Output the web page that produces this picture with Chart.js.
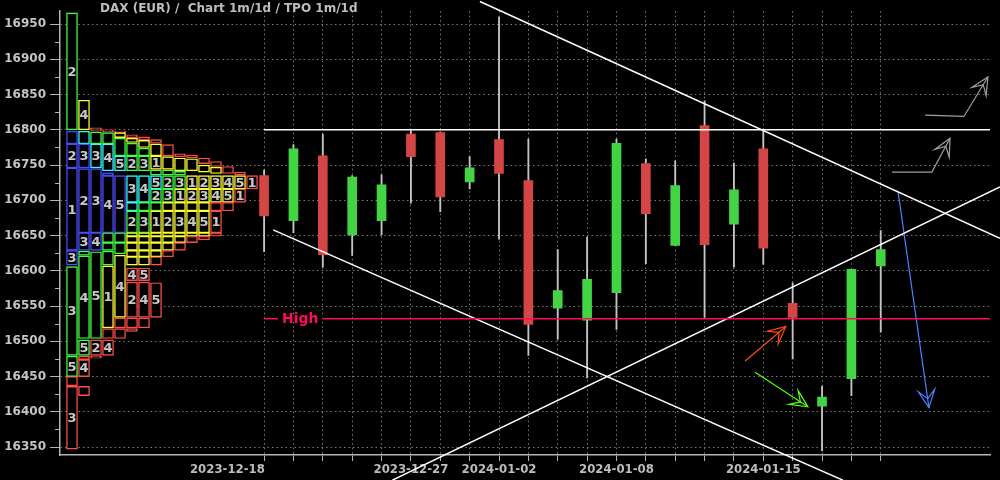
<!DOCTYPE html>
<html>
<head>
<meta charset="utf-8">
<script src="https://cdn.jsdelivr.net/npm/chart.js@4.4.0/dist/chart.umd.min.js"></script>
<style>
  html, body { margin: 0; padding: 0; background: #000; }
  #wrap { width: 1000px; height: 480px; }
</style>
</head>
<body>
<div id="wrap"><canvas id="daxChart"></canvas></div>
<script>
// ---------------------------- data ----------------------------
const dates = ['2023-12-18', '2023-12-19', '2023-12-20', '2023-12-21', '2023-12-22',
  '2023-12-27', '2023-12-28', '2023-12-29', '2024-01-02', '2024-01-03', '2024-01-04',
  '2024-01-05', '2024-01-08', '2024-01-09', '2024-01-10', '2024-01-11', '2024-01-12',
  '2024-01-15', '2024-01-16', '2024-01-17', '2024-01-18', '2024-01-19'];
const opens  = [16735, 16671, 16763, 16651, 16671, 16794, 16796, 16726, 16786, 16728, 16547,
  16530, 16569, 16752, 16636, 16806, 16666, 16773, 16554, 16408, 16447, 16607];
const highs  = [16743, 16779, 16794, 16735, 16736, 16799, 16797, 16762, 16960, 16787, 16630,
  16648, 16787, 16759, 16756, 16841, 16753, 16801, 16583, 16436, 16602, 16657];
const lows   = [16627, 16654, 16605, 16622, 16651, 16696, 16684, 16716, 16645, 16480, 16503,
  16448, 16517, 16610, 16636, 16534, 16605, 16609, 16475, 16345, 16423, 16513];
const closes = [16678, 16773, 16623, 16733, 16722, 16762, 16705, 16746, 16738, 16524, 16572,
  16588, 16781, 16681, 16721, 16637, 16715, 16632, 16534, 16421, 16602, 16630];

const labelledDays = [5, 8, 12, 17];
const firstLabelPos = -1.25;
const yTicks = [16350, 16400, 16450, 16500, 16550, 16600, 16650, 16700, 16750, 16800, 16850, 16900, 16950];
const yMinorTicks = [16375, 16425, 16475, 16525, 16575, 16625, 16675, 16725, 16775, 16825, 16875, 16925];

const resistanceLevel = 16800;
const highLevel = 16532;

// TPO profile: [column, top price, bottom price, colour key, letter]
const tpoBoxes = [
  [0, 16966, 16800, 'g', '2'], [0, 16798, 16780, 'b', ''], [0, 16780, 16746, 'b', '2'],
  [0, 16746, 16629, 'b', '1'], [0, 16629, 16608, 'b', '3'], [0, 16606, 16480, 'g', '3'],
  [0, 16479, 16450, 'g', '5'], [0, 16450, 16437, 'r', ''], [0, 16436, 16347, 'r', '3'],

  [1, 16842, 16800, 'y', '4'], [1, 16798, 16780, 'c', ''], [1, 16780, 16746, 'b', '3'],
  [1, 16745, 16654, 'b', '2'], [1, 16654, 16629, 'b', '3'], [1, 16628, 16622, 'g', ''],
  [1, 16621, 16504, 'g', '4'], [1, 16502, 16480, 'g', '5'], [1, 16479, 16474, 'r', ''],
  [1, 16474, 16450, 'r', '4'], [1, 16436, 16423, 'r', ''],

  [2, 16803, 16799, 'r', ''], [2, 16797, 16780, 'g', ''], [2, 16780, 16746, 'c', '3'],
  [2, 16745, 16654, 'b', '3'], [2, 16654, 16629, 'b', '4'], [2, 16627, 16504, 'g', '5'],
  [2, 16502, 16480, 'r', '2'], [2, 16479, 16476, 'r', ''],

  [3, 16800, 16797, 'r', ''], [3, 16796, 16780, 'g', ''], [3, 16780, 16742, 'c', '4'],
  [3, 16739, 16735, 'b', ''], [3, 16735, 16654, 'b', '4'], [3, 16654, 16640, 'g', ''],
  [3, 16640, 16629, 'g', ''], [3, 16628, 16608, 'g', ''], [3, 16607, 16519, 'y', '1'],
  [3, 16518, 16504, 'r', ''], [3, 16502, 16480, 'r', '4'],

  [4, 16798, 16796, 'r', ''], [4, 16796, 16789, 'y', ''], [4, 16788, 16763, 'g', ''],
  [4, 16763, 16742, 'c', '5'], [4, 16735, 16654, 'b', '5'], [4, 16654, 16640, 'g', ''],
  [4, 16640, 16624, 'g', ''], [4, 16622, 16534, 'y', '4'], [4, 16533, 16519, 'r', ''],
  [4, 16518, 16504, 'r', ''],

  [5, 16793, 16789, 'r', ''], [5, 16788, 16782, 'y', ''], [5, 16781, 16763, 'g', ''],
  [5, 16763, 16742, 'g', '2'], [5, 16735, 16697, 'c', '3'], [5, 16697, 16685, 'c', ''],
  [5, 16685, 16654, 'g', '2'], [5, 16654, 16649, 'y', ''], [5, 16649, 16640, 'y', ''],
  [5, 16640, 16629, 'y', ''], [5, 16629, 16620, 'y', ''], [5, 16620, 16608, 'y', ''],
  [5, 16604, 16586, 'r', '4'], [5, 16584, 16534, 'r', '2'], [5, 16533, 16519, 'r', ''],
  [5, 16518, 16514, 'r', ''],

  [6, 16790, 16786, 'r', ''], [6, 16785, 16775, 'y', ''], [6, 16774, 16763, 'g', ''],
  [6, 16763, 16742, 'g', '3'], [6, 16735, 16697, 'c', '4'], [6, 16697, 16685, 'g', ''],
  [6, 16685, 16654, 'g', '3'], [6, 16654, 16649, 'y', ''], [6, 16649, 16640, 'y', ''],
  [6, 16640, 16629, 'y', ''], [6, 16629, 16620, 'y', ''], [6, 16620, 16608, 'y', ''],
  [6, 16604, 16586, 'r', '5'], [6, 16584, 16534, 'r', '4'], [6, 16533, 16519, 'r', ''],

  [7, 16786, 16781, 'r', ''], [7, 16780, 16763, 'y', ''], [7, 16763, 16744, 'y', '1'],
  [7, 16743, 16736, 'g', ''], [7, 16735, 16716, 'c', '5'], [7, 16716, 16697, 'g', '2'],
  [7, 16697, 16685, 'g', ''], [7, 16685, 16654, 'y', '1'], [7, 16654, 16649, 'y', ''],
  [7, 16649, 16640, 'y', ''], [7, 16640, 16629, 'y', ''], [7, 16629, 16620, 'y', ''],
  [7, 16620, 16608, 'r', ''], [7, 16583, 16534, 'r', '5'],

  [8, 16779, 16763, 'r', ''], [8, 16762, 16744, 'y', ''], [8, 16743, 16736, 'g', ''],
  [8, 16735, 16716, 'g', '2'], [8, 16716, 16697, 'g', '3'], [8, 16697, 16685, 'y', ''],
  [8, 16685, 16654, 'y', '2'], [8, 16654, 16649, 'y', ''], [8, 16649, 16640, 'y', ''],
  [8, 16640, 16629, 'y', ''], [8, 16629, 16620, 'r', ''],

  [9, 16766, 16762, 'r', ''], [9, 16760, 16742, 'y', ''], [9, 16741, 16736, 'g', ''],
  [9, 16735, 16716, 'g', '3'], [9, 16716, 16697, 'y', '1'], [9, 16697, 16685, 'y', ''],
  [9, 16685, 16654, 'y', '3'], [9, 16654, 16649, 'y', ''], [9, 16649, 16640, 'y', ''],
  [9, 16640, 16629, 'r', ''],

  [10, 16764, 16760, 'r', ''], [10, 16759, 16742, 'y', ''], [10, 16735, 16716, 'y', '1'],
  [10, 16716, 16697, 'y', '2'], [10, 16697, 16685, 'y', ''], [10, 16685, 16654, 'y', '4'],
  [10, 16654, 16649, 'y', ''], [10, 16649, 16640, 'r', ''],

  [11, 16760, 16752, 'r', ''], [11, 16750, 16740, 'y', ''], [11, 16735, 16716, 'y', '2'],
  [11, 16716, 16697, 'y', '3'], [11, 16697, 16685, 'y', ''], [11, 16685, 16654, 'y', '5'],
  [11, 16654, 16649, 'y', ''], [11, 16649, 16644, 'r', ''],

  [12, 16755, 16748, 'r', ''], [12, 16747, 16738, 'y', ''], [12, 16735, 16716, 'y', '3'],
  [12, 16716, 16697, 'y', '4'], [12, 16697, 16685, 'r', ''], [12, 16685, 16654, 'r', '1'],
  [12, 16654, 16649, 'r', ''],

  [13, 16748, 16738, 'r', ''], [13, 16735, 16716, 'y', '4'], [13, 16716, 16697, 'y', '5'],
  [13, 16697, 16685, 'r', ''],

  [14, 16740, 16736, 'r', ''], [14, 16735, 16716, 'y', '5'], [14, 16716, 16697, 'r', '1'],

  [15, 16735, 16716, 'r', '1']
];
const tpoColours = { b: '#4b4bff', c: '#3ff', g: '#44ff44', y: '#ffff33', r: '#ff4d4d' };

// trend lines: [[day index, price], [day index, price]]
const trendLines = [
  [[7.35, 16982], [25.06, 16646]],
  [[0.31, 16658], [19.71, 16303]],
  [[4.37, 16303], [25.06, 16719]]
];

// hand drawn arrows
const arrows = [
  { colour: '#a0a0a0', pts: [[22.51, 16821], [23.83, 16819], [24.65, 16875]] },
  { colour: '#a0a0a0', pts: [[21.38, 16740], [22.74, 16740], [23.36, 16788]] },
  { colour: '#ff4a10', pts: [[16.38, 16472], [17.77, 16521]] },
  { colour: '#55ff11', pts: [[16.72, 16456], [18.52, 16407]] },
  { colour: '#4a80ff', pts: [[21.59, 16712], [22.64, 16406]] }
];

const titleText = 'DAX (EUR) /  Chart 1m/1d / TPO 1m/1d';

// --------------------------------------------------------------
const xMin = -6.95, xMax = 24.72;
const yMin = 16338.7, yMax = 16968.3;

const days = dates.map((d, i) => i);
const upColour = '#42d442', downColour = '#d44545';
const candleColours = days.map(i => closes[i] >= opens[i] ? upColour : downColour);

const lineSet = (pts, colour, width) => ({
  type: 'line',
  data: pts.map(p => ({ x: p[0], y: p[1] })),
  borderColor: colour,
  borderWidth: width,
  pointRadius: 0,
  clip: false,
  order: 0
});

const datasets = [
  {
    label: 'tpo',
    xAxisID: 'xt',
    data: tpoBoxes.map(b => ({ x: b[0] + 0.5, y: [b[2], b[1]] })),
    backgroundColor: '#000',
    borderColor: tpoBoxes.map(b => tpoColours[b[3]]),
    borderWidth: 1.4,
    borderSkipped: false,
    barThickness: 11,
    grouped: false,
    order: 5
  },
  {
    label: 'wicks',
    data: days.map(i => ({ x: i, y: [lows[i], highs[i]] })),
    backgroundColor: '#c4c4c4',
    borderWidth: 0,
    barThickness: 1.2,
    grouped: false,
    order: 4
  },
  {
    label: 'bodies',
    data: days.map(i => ({ x: i, y: [opens[i], closes[i]] })),
    backgroundColor: candleColours,
    borderWidth: 0,
    barThickness: 9,
    grouped: false,
    order: 3
  },
  lineSet([[0, resistanceLevel], [xMax, resistanceLevel]], '#ffffff', 1.5),
  lineSet([[0, highLevel], [xMax, highLevel]], '#ff0a5e', 1.5),
  ...trendLines.map(t => lineSet(t, '#ffffff', 1.5)),
  ...arrows.map(a => lineSet(a.pts, a.colour, 1.2))
];

// Arrow heads, TPO letters, "High" tag, minor ticks and the title
const overlay = {
  id: 'overlay',
  afterDatasetsDraw(chart) {
    const { ctx, scales: { x, y } } = chart;
    ctx.save();

    // TPO letters
    const meta = chart.getDatasetMeta(0);
    ctx.font = 'bold 13px "DejaVu Sans"';
    ctx.fillStyle = '#c8c8c8';
    ctx.textAlign = 'center';
    ctx.textBaseline = 'middle';
    meta.data.forEach((el, i) => {
      const letter = tpoBoxes[i][4];
      if (letter) ctx.fillText(letter, el.x, (el.y + el.base) / 2 + 1);
    });

    // arrow heads
    arrows.forEach(a => {
      const n = a.pts.length;
      const tx = x.getPixelForValue(a.pts[n - 1][0]), ty = y.getPixelForValue(a.pts[n - 1][1]);
      const fx = x.getPixelForValue(a.pts[n - 2][0]), fy = y.getPixelForValue(a.pts[n - 2][1]);
      const ang = Math.atan2(fy - ty, fx - tx);
      const len = 19, spread = 0.45;
      ctx.strokeStyle = a.colour;
      ctx.lineWidth = 1.2;
      ctx.beginPath();
      ctx.moveTo(tx + len * Math.cos(ang - spread), ty + len * Math.sin(ang - spread));
      ctx.lineTo(tx, ty);
      ctx.lineTo(tx + len * Math.cos(ang + spread), ty + len * Math.sin(ang + spread));
      ctx.lineTo(tx + 9 * Math.cos(ang), ty + 9 * Math.sin(ang));
      ctx.closePath();
      ctx.stroke();
    });

    // "High" tag on the level line
    ctx.font = 'bold 14px "DejaVu Sans"';
    const hx = x.getPixelForValue(1.23), hy = y.getPixelForValue(highLevel);
    const w = ctx.measureText('High').width;
    ctx.fillStyle = '#000';
    ctx.fillRect(hx - w / 2 - 4, hy - 3, w + 8, 6);
    ctx.fillStyle = '#ff0a5e';
    ctx.fillText('High', hx, hy + 1);

    // minor ticks on the price axis
    ctx.strokeStyle = '#b4b4b4';
    ctx.lineWidth = 1;
    yMinorTicks.forEach(v => {
      const py = Math.round(y.getPixelForValue(v)) + 0.5;
      ctx.beginPath();
      ctx.moveTo(y.right - 5, py);
      ctx.lineTo(y.right, py);
      ctx.stroke();
    });

    // title
    ctx.font = 'bold 12px "DejaVu Sans"';
    ctx.fillStyle = '#bdbdbd';
    ctx.textAlign = 'left';
    ctx.fillText(titleText, 100, 9);
    ctx.restore();
  }
};

const ctx = document.getElementById('daxChart').getContext('2d');
const daxChart = new Chart(ctx, {
  type: 'bar',
  data: { datasets: datasets },
  options: {
    responsive: true,
    maintainAspectRatio: false,
    animation: false,
    devicePixelRatio: 1,
    layout: { padding: { top: 10, right: 10, left: 0, bottom: 0 } },
    plugins: { legend: { display: false }, tooltip: { enabled: false } },
    scales: {
      x: {
        type: 'linear',
        offset: false,
        min: xMin,
        max: xMax,
        afterFit: s => { s.height = 25; },
        afterBuildTicks: s => {
          s.ticks = [{ value: firstLabelPos }].concat(days.map(v => ({ value: v })));
        },
        ticks: {
          autoSkip: false,
          maxRotation: 0,
          padding: 1,
          color: '#bcbcbc',
          font: { family: '"DejaVu Sans Condensed", "DejaVu Sans"', size: 13, weight: 'bold' },
          callback: v => {
            if (v === firstLabelPos) return dates[0];
            return labelledDays.includes(v) ? dates[v] : '';
          }
        },
        grid: {
          offset: false,
          color: c => (c.tick && c.tick.value < 0 ? 'rgba(0,0,0,0)' : '#7a7a7a'),
          tickColor: c => (c.tick && c.tick.value < 0 ? 'rgba(0,0,0,0)' : '#b4b4b4'),
          tickLength: 6,
          lineWidth: 1
        },
        border: { color: '#b4b4b4', width: 1.5, dash: [1.5, 3] }
      },
      xt: {
        type: 'linear',
        display: false,
        offset: false,
        min: -0.5,
        max: 77
      },
      y: {
        type: 'linear',
        min: yMin,
        max: yMax,
        afterFit: s => { s.width = 60; },
        afterBuildTicks: s => { s.ticks = yTicks.map(v => ({ value: v })); },
        ticks: {
          padding: 4,
          color: '#c4c4c4',
          font: { family: '"DejaVu Sans"', size: 12, weight: 'bold' },
          callback: v => String(v)
        },
        grid: { color: '#7a7a7a', tickColor: '#b4b4b4', tickLength: 10, lineWidth: 1 },
        border: { color: '#b4b4b4', width: 1.5, dash: [1.5, 3] }
      }
    }
  },
  plugins: [overlay]
});
</script>
</body>
</html>
